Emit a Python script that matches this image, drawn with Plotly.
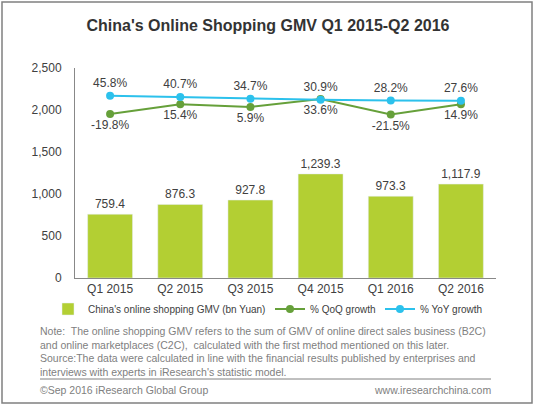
import plotly.graph_objects as go

# quarters and values
quarters = ["Q1 2015", "Q2 2015", "Q3 2015", "Q4 2015", "Q1 2016", "Q2 2016"]
gmv = [759.4, 876.3, 927.8, 1239.3, 973.3, 1117.9]
qoq = [-19.8, 15.4, 5.9, 33.6, -21.5, 14.9]
yoy = [45.8, 40.7, 34.7, 30.9, 28.2, 27.6]
y_ticks = [0, 500, 1000, 1500, 2000, 2500]

font_family = "Arial, Liberation Sans, sans-serif"
bar_color = "#B3CF33"
qoq_color = "#66A03A"
yoy_color = "#2CC1EC"

fig = go.Figure()

fig.add_trace(go.Bar(
    x=quarters, y=gmv, name="China's online shopping GMV (bn Yuan)", legend="legend",
    marker_color=bar_color, texttemplate="%{y:,.1f}", textposition="outside",
    textfont=dict(size=12, color="#404040"), cliponaxis=False,
))
fig.add_trace(go.Scatter(
    x=quarters, y=qoq, name="% QoQ growth", yaxis="y2", legend="legend2",
    mode="lines+markers+text", line=dict(color=qoq_color, width=2),
    marker=dict(size=8, color=qoq_color), texttemplate="%{y:.1f}%",
    textposition="bottom center", textfont=dict(size=12, color="#404040"),
))
fig.add_trace(go.Scatter(
    x=quarters, y=yoy, name="% YoY growth", yaxis="y2", legend="legend3",
    mode="lines+markers+text", line=dict(color=yoy_color, width=2),
    marker=dict(size=8, color=yoy_color), texttemplate="%{y:.1f}%",
    textposition="top center", textfont=dict(size=12, color="#404040"),
))

# pixel -> paper helpers (plot area is x 75..496, y 68..278)
def px(x):
    return (x - 75) / 421.0

def py(y):
    return (278 - y) / 210.0

def legend_at(x):
    return dict(x=px(x), xanchor="left", y=py(309), yanchor="middle",
                orientation="h", font=dict(size=10, color="#404040"),
                itemwidth=30, bgcolor="rgba(0,0,0,0)",
                borderwidth=0)

note = ("Note:  The online shopping GMV refers to the sum of GMV of online direct sales business (B2C)<br>"
        "and online marketplaces (C2C),  calculated with the first method mentioned on this later.<br>"
        "Source:The data were calculated in line with the financial results published by enterprises and<br>"
        "interviews with experts in iResearch's statistic model.")

fig.update_layout(
    width=536, height=406,
    margin=dict(l=75, r=40, t=68, b=128, autoexpand=False),
    paper_bgcolor="white", plot_bgcolor="white",
    font=dict(family=font_family, size=12, color="#404040"),
    title=dict(text="<b>China's Online Shopping GMV Q1 2015-Q2 2016</b>",
               x=0.5, xanchor="center", y=1 - 25 / 406, yanchor="middle",
               font=dict(size=16, color="#333333")),
    bargap=0.36,
    showlegend=True,
    legend=legend_at(48),
    legend2=legend_at(270),
    legend3=legend_at(380),
    xaxis=dict(showline=True, linecolor="#888888", linewidth=1, ticks="",
               tickfont=dict(size=12, color="#404040"), showgrid=False),
    yaxis=dict(range=[0, 2500], tickvals=y_ticks, tickformat=",", showline=True,
               linecolor="#888888", linewidth=1, showgrid=False, zeroline=False,
               tickfont=dict(size=12, color="#404040"), ticks="",
               ticklabelstandoff=10),
    yaxis2=dict(overlaying="y", range=[-602, 144], visible=False),
    annotations=[
        dict(text=note, xref="paper", yref="paper", x=px(38), y=py(323),
             xanchor="left", yanchor="top", align="left", showarrow=False,
             font=dict(size=10.5, color="#808080")),
        dict(text="©Sep 2016 iResearch Global Group", xref="paper", yref="paper",
             x=px(38), y=py(390), xanchor="left", yanchor="middle", showarrow=False,
             font=dict(size=10.5, color="#808080")),
        dict(text="www.iresearchchina.com", xref="paper", yref="paper",
             x=px(493), y=py(390), xanchor="right", yanchor="middle", showarrow=False,
             font=dict(size=10.5, color="#808080")),
    ],
    shapes=[
        dict(type="line", xref="paper", yref="paper", x0=px(40), x1=px(491),
             y0=py(379), y1=py(379), line=dict(color="#808080", width=1)),
        dict(type="rect", xref="paper", yref="paper", x0=px(2), x1=px(532),
             y0=py(2), y1=py(403), line=dict(color="#808080", width=1.5)),
    ],
)

# page has a default body margin; remove it so the figure sits at the window origin
fig.write_html("out.html", config={"displayModeBar": False},
               post_script="document.body.style.margin='0';")
